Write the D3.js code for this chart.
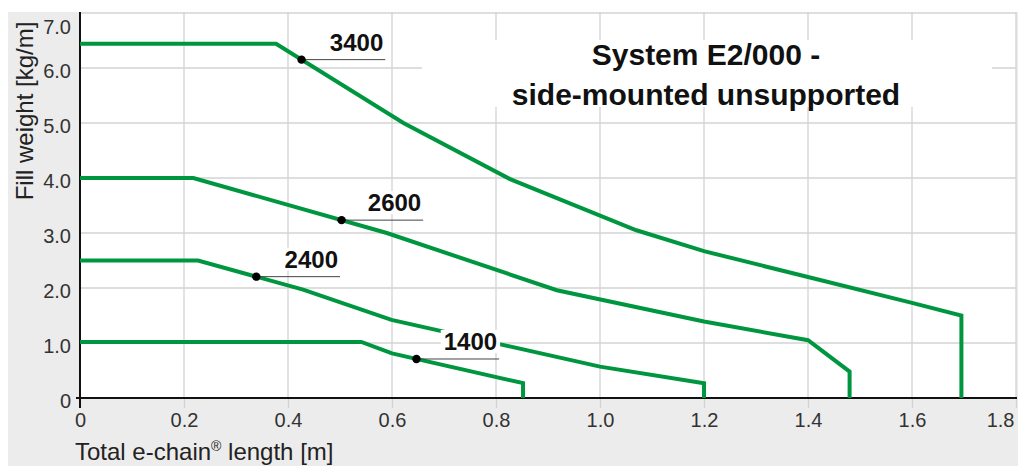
<!DOCTYPE html>
<html>
<head>
<meta charset="utf-8">
<script src="https://cdn.jsdelivr.net/npm/d3@7"></script>
<style>
  html, body { margin: 0; padding: 0; background: #fff; }
  svg { display: block; font-family: "Liberation Sans", Arial, Helvetica, sans-serif; }
</style>
</head>
<body>
<svg id="chart" width="1018" height="466"></svg>
<script>
// ---- data ----
const xTicks = [0, 0.2, 0.4, 0.6, 0.8, 1.0, 1.2, 1.4, 1.6, 1.8];
const yTicks = [0, 1, 2, 3, 4, 5, 6, 7];
const seriesNames = ["3400", "2600", "2400", "1400"];
const s3400 = [[0, 6.44], [0.377, 6.44], [0.622, 5.0], [0.827, 3.98], [1.07, 3.05], [1.2, 2.67], [1.4, 2.2], [1.6, 1.73], [1.695, 1.5], [1.695, 0]];
const s2600 = [[0, 4.0], [0.218, 4.0], [0.59, 3.0], [0.917, 1.96], [1.2, 1.39], [1.4, 1.05], [1.48, 0.48], [1.48, 0]];
const s2400 = [[0, 2.5], [0.227, 2.5], [0.429, 1.97], [0.599, 1.42], [1.0, 0.57], [1.2, 0.27], [1.2, 0]];
const s1400 = [[0, 1.02], [0.541, 1.02], [0.6, 0.81], [0.852, 0.27], [0.852, 0]];
const labelDotX = [0.426, 0.503, 0.339, 0.647];   // where each label's dot sits (x, m)
const labelEndX = [0.587, 0.66, 0.5, 0.806];      // where each leader line ends (x, m)
const titleLines = ["System E2/000 -", "side-mounted unsupported"];
const xTitle = "Total e-chain";
const yTitle = "Fill weight [kg/m]";

const allSeries = [s3400, s2600, s2400, s1400];

// ---- setup ----
const svg = d3.select("#chart");
const x = d3.scaleLinear().domain([0, 1.8]).range([80, 1016]);
const y = d3.scaleLinear().domain([0, 7]).range([398, 13]);
const green = "#00963f";
const gridCol = "#d3d3d3";

// gray panel and white plot area
svg.append("rect").attr("x", 8).attr("y", 12).attr("width", 1010).attr("height", 454).attr("fill", "#ececec");
svg.append("rect").attr("x", x(0)).attr("y", y(7) - 1).attr("width", x(1.8) - x(0)).attr("height", y(0) - y(7) + 1).attr("fill", "#fff");

// grid
const grid = svg.append("g");
grid.selectAll("line.v").data(xTicks.filter(d => d > 0)).enter().append("line")
  .attr("x1", d => x(d)).attr("x2", d => x(d)).attr("y1", y(7) - 1).attr("y2", y(0))
  .attr("stroke", gridCol).attr("stroke-width", 1.3);
grid.selectAll("line.h").data(yTicks.filter(d => d > 0)).enter().append("line")
  .attr("x1", x(0)).attr("x2", x(1.8)).attr("y1", d => y(d)).attr("y2", d => y(d))
  .attr("stroke", gridCol).attr("stroke-width", 1.3);

// white background behind title
svg.append("rect").attr("x", 490).attr("y", 40).attr("width", 425).attr("height", 67).attr("fill", "#fff");
svg.append("rect").attr("x", 422).attr("y", y(6) - 4).attr("width", 570).attr("height", 8).attr("fill", "#fff");

// x axis
const xAxis = d3.axisBottom(x).tickValues(xTicks)
  .tickFormat(d => d === 0 ? "0" : d3.format(".1f")(d))
  .tickSize(10).tickPadding(5);
const gx = svg.append("g").attr("transform", `translate(0,${y(0)})`).call(xAxis);
gx.select(".domain").remove();
gx.selectAll(".tick line").attr("stroke", gridCol).attr("stroke-width", 1.3);
gx.selectAll(".tick text").attr("font-size", 20).attr("fill", "#333")
  .attr("font-family", "Liberation Sans, Arial, sans-serif");
gx.selectAll(".tick text").filter(d => d === 1.8).attr("text-anchor", "end").attr("x", -2);

// y axis
const yAxis = d3.axisLeft(y).tickValues(yTicks)
  .tickFormat(d => d === 0 ? "0" : d3.format(".1f")(d))
  .tickSize(0).tickPadding(9);
const gy = svg.append("g").attr("transform", `translate(${x(0)},0)`).call(yAxis);
gy.select(".domain").remove();
gy.selectAll(".tick text").attr("font-size", 20).attr("fill", "#333")
  .attr("font-family", "Liberation Sans, Arial, sans-serif")
  .attr("dy", d => d === 7 ? "1.0em" : "0.47em");

// axis lines
svg.append("line").attr("x1", x(0)).attr("x2", x(0)).attr("y1", y(7) - 1).attr("y2", y(0) + 10)
  .attr("stroke", "#111").attr("stroke-width", 2);
svg.append("line").attr("x1", x(0) - 4).attr("x2", x(1.8) + 1).attr("y1", y(0)).attr("y2", y(0))
  .attr("stroke", "#111").attr("stroke-width", 2);

// series
const line = d3.line().x(d => x(d[0])).y(d => y(d[1]));
svg.append("g").selectAll("path").data(allSeries).enter().append("path")
  .attr("d", line).attr("fill", "none").attr("stroke", green)
  .attr("stroke-width", 4).attr("stroke-linejoin", "miter");

// labels
function interp(s, xv) {
  for (let i = 0; i < s.length - 1; i++) {
    const a = s[i], b = s[i + 1];
    if (xv >= a[0] && xv <= b[0] && b[0] > a[0]) {
      return a[1] + (b[1] - a[1]) * (xv - a[0]) / (b[0] - a[0]);
    }
  }
  return s[s.length - 1][1];
}
const lab = svg.append("g");
seriesNames.forEach((name, i) => {
  const dx = labelDotX[i], dy = interp(allSeries[i], dx);
  const px = x(dx), py = y(dy), ex = x(labelEndX[i]);
  const g = lab.append("g");
  const box = g.append("rect").attr("fill", "#fff");
  const t = g.append("text").attr("x", ex - 2).attr("y", py - 9)
    .attr("text-anchor", "end").attr("font-size", 24).attr("font-weight", "bold")
    .attr("fill", "#111").text(name);
  const bb = t.node().getBBox();
  box.attr("x", bb.x - 3).attr("y", bb.y + 2).attr("width", bb.width + 6).attr("height", bb.height - 4);
  g.append("line").attr("x1", px).attr("x2", ex).attr("y1", py).attr("y2", py)
    .attr("stroke", "#444").attr("stroke-width", 1);
  g.append("circle").attr("cx", px).attr("cy", py).attr("r", 4.2).attr("fill", "#000");
});

// title
const tt = svg.append("text").attr("text-anchor", "middle").attr("font-size", 30)
  .attr("font-weight", "bold").attr("fill", "#111");
tt.append("tspan").attr("x", 706).attr("y", 65).text(titleLines[0]);
tt.append("tspan").attr("x", 706).attr("y", 105).text(titleLines[1]);

// axis titles
const xt = svg.append("text").attr("x", 75).attr("y", 460).attr("font-size", 24).attr("fill", "#222");
xt.append("tspan").text(xTitle);
xt.append("tspan").attr("font-size", 14).attr("dy", -9).text("®");
xt.append("tspan").attr("dy", 9).text(" length [m]");

svg.append("text").attr("transform", "translate(33,111) rotate(-90)")
  .attr("text-anchor", "middle").attr("font-size", 24).attr("fill", "#222").text(yTitle);
</script>
</body>
</html>
